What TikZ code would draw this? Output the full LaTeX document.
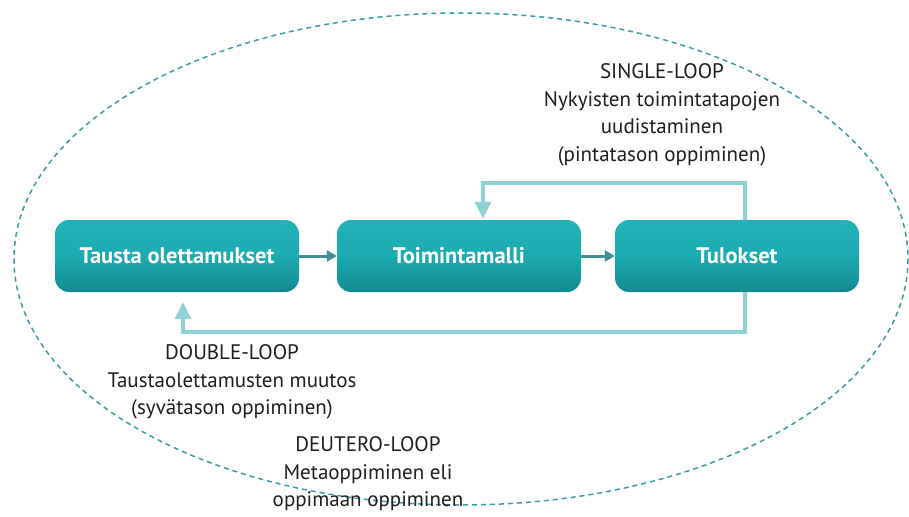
\documentclass[tikz,border=0pt]{standalone}
\usepackage{fontspec}
\setmainfont{PT Sans}
\usetikzlibrary{arrows.meta,calc}
\definecolor{boxtop}{HTML}{22B2B7}
\definecolor{boxmid}{HTML}{1CABB0}
\definecolor{boxbot}{HTML}{138A8F}
\definecolor{loopc}{HTML}{8ED2D5}
\definecolor{smallc}{HTML}{3E8E92}
\definecolor{ellc}{HTML}{3A9CA2}
\definecolor{txt}{HTML}{1E1E1E}
\tikzset{
  stepbox/.style={rounded corners=14pt, minimum width=244pt, minimum height=72pt,
    top color=boxtop, bottom color=boxbot, middle color=boxmid, draw=none,
    text=white, font=\fontsize{22.5}{26}\selectfont\bfseries},
  loopline/.style={draw=loopc, line width=3.4pt, -{Triangle[width=16pt,length=17pt]}},
  smallarrow/.style={draw=smallc, line width=3pt, -{Triangle[width=11pt,length=10pt]}},
  lbl/.style={align=center, text=txt, font=\fontsize{21}{27.5}\selectfont},
}
\begin{document}
\begin{tikzpicture}[x=1pt,y=-1pt]
\useasboundingbox (0,0) rectangle (909,516);
\draw[ellc, dashed, line width=1.5pt, dash pattern=on 5pt off 4pt] (461,259) ellipse [x radius=447, y radius=246];
\node[stepbox] (b1) at (177,256) {Tausta olettamukset};
\node[stepbox] (b2) at (459,256) {Toimintamalli};
\node[stepbox] (b3) at (737,256) {Tulokset};
\draw[smallarrow] (b1.east) -- (b2.west);
\draw[smallarrow] (b2.east) -- (b3.west);
\coordinate (s1) at (745,183);
\coordinate (s2) at (483,183);
\draw[loopline] (b3.north -| s1) -- (s1) -- (s2) -- ($(b2.north -| s2)+(0,-1)$);
\coordinate (d1) at (745,332);
\coordinate (d2) at (183,332);
\draw[loopline] (b3.south -| d1) -- (d1) -- (d2) -- ($(b1.south -| d2)+(0,10)$);
\node[lbl] (single) at (662,115) {SINGLE-LOOP\\Nykyisten toimintatapojen\\uudistaminen\\(pintatason oppiminen)};
\node[lbl] (double) at (232,382) {DOUBLE-LOOP\\Taustaolettamusten muutos\\(syvätason oppiminen)};
\node[lbl] (deutero) at (368,474) {DEUTERO-LOOP\\Metaoppiminen eli\\oppimaan oppiminen};
\end{tikzpicture}
\end{document}
